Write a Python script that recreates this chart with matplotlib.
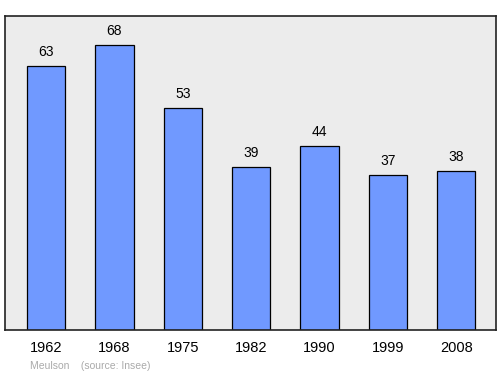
import matplotlib
matplotlib.use("Agg")
from matplotlib import pyplot as plt
import numpy as np

years = ["1962", "1968", "1975", "1982", "1990", "1999", "2008"]
population = [63, 68, 53, 39, 44, 37, 38]

plt.rcParams['font.family'] = ['Liberation Sans', 'DejaVu Sans']

fig = plt.figure(figsize=(5, 3.74), dpi=100)
ax = fig.add_axes([0.01, 0.1176, 0.982, 0.8396])
ax.set_facecolor("#ececec")

x = np.arange(len(years))
ax.bar(x, population, width=0.56, color="#7099ff", edgecolor="black", linewidth=0.9)
for xi, v in zip(x, population):
    ax.text(xi, v + 1.7, str(v), ha="center", va="bottom", fontsize=10)

ax.set_xlim(-0.6, 6.58)
ax.set_ylim(0, 75)
ax.set_yticks([])
ax.set_xticks(x)
ax.set_xticklabels(years, fontsize=10.5)
ax.tick_params(axis="x", length=0, pad=8)
for s in ax.spines.values():
    s.set_linewidth(1.2)
    s.set_color("#222222")

fig.text(0.06, 0.014, "Meulson    (source: Insee)", color="#aaaaaa", fontsize=7.5)

fig.savefig("out.png", dpi=100)
